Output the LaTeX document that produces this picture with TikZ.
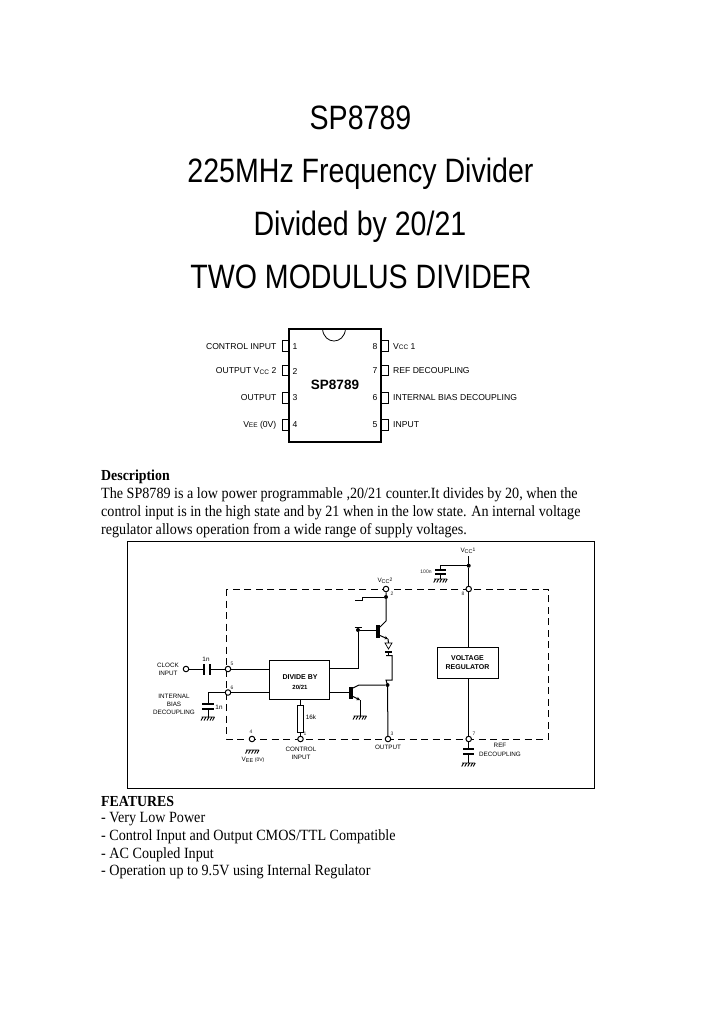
\documentclass[tikz,border=0pt]{standalone}
\usepackage{fontspec}
\setmainfont{Liberation Sans}
\newfontfamily\serifbody[FakeStretch=0.906]{Liberation Serif}
\newfontfamily\titlefont[FakeStretch=0.845]{Liberation Sans}
\usetikzlibrary{arrows.meta}
\newcommand{\fs}[1]{\fontsize{#1}{#1}\selectfont}
\tikzset{
  title/.style={anchor=base,inner sep=0pt,font=\titlefont\fs{33.8}},
  bodyline/.style={anchor=west,inner sep=0pt,font=\serifbody\fs{15.6}},
  headline/.style={anchor=west,inner sep=0pt,font=\serifbody\bfseries\fs{15.3}},
  pinl/.style={anchor=east,inner sep=0pt,font=\fs{8.6}},
  pinr/.style={anchor=west,inner sep=0pt,font=\fs{8.6}},
  pinnum/.style={anchor=center,inner sep=0pt,font=\fs{8.6}},
  tiny/.style={anchor=center,inner sep=0pt,font=\fs{6.3},text=black},
  tinier/.style={anchor=center,inner sep=0pt,font=\fs{5},text=black!85},
  boxlabel/.style={anchor=center,inner sep=0pt,font=\bfseries\fs{7}},
  wire/.style={draw,line width=1pt},
  plate/.style={draw,line width=2pt},
  term/.style={circle,draw,fill=white,line width=1pt,inner sep=0pt,minimum size=5.5pt},
  jn/.style={circle,fill=black,inner sep=0pt,minimum size=4pt},
  block/.style={draw,line width=1.1pt,inner sep=0pt,anchor=north west},
  gnd/.pic={\draw[line width=0.9pt] (-6.5,0) -- (6.5,0)
     (-5,0) -- (-7,3.5) (-2,0) -- (-4,3.5) (1,0) -- (-1,3.5) (4,0) -- (2,3.5) (6.5,0) -- (4.5,3.5);}
}
\begin{document}
\begin{tikzpicture}[x=1pt,y=-1pt]
\useasboundingbox (0,0) rectangle (720,1012);
\fill[white] (0,0) rectangle (720,1012);

% headings
\node[title] (t1) at (360.5,129.3) {SP8789};
\node[title] (t2) at (360.5,182.3) {225MHz Frequency Divider};
\node[title] (t3) at (360,235) {Divided by 20/21};
\node[title] (t4) at (361,288.3) {TWO MODULUS DIVIDER};

% package
\draw[line width=2pt] (288.7,329) rectangle (381.3,442);
\draw[line width=0.8pt] (322.5,329) .. controls (324,345) and (344,345) .. (345.5,329);
\foreach \yy in {346,370.5,398,425}{
  \draw[line width=0.9pt] (288.7,\yy-5.3) -- (282,\yy-5.3) -- (282,\yy+5.3) -- (288.7,\yy+5.3);
  \draw[line width=0.9pt] (381.3,\yy-5.3) -- (388,\yy-5.3) -- (388,\yy+5.3) -- (381.3,\yy+5.3);
}
\node[anchor=center,inner sep=0pt,font=\bfseries\fs{13.5}] (chip) at (335,384.5) {SP8789};
\node[pinl] (l1) at (276.5,346.5) {CONTROL INPUT};
\node[pinl] (l2) at (276.5,371) {OUTPUT V\kern0.3pt\raisebox{-0.5pt}{\fs{6.5}CC} 2};
\node[pinl] (l3) at (276.5,398) {OUTPUT};
\node[pinl] (l4) at (276.5,425) {V\raisebox{-0.5pt}{\fs{6.5}EE} (0V)};
\node[pinnum] (n1) at (295,346.5) {1};
\node[pinnum] (n2) at (295,371) {2};
\node[pinnum] (n3) at (295,398) {3};
\node[pinnum] (n4) at (295,425) {4};
\node[pinnum] (n8) at (375,346.5) {8};
\node[pinnum] (n7) at (375,371) {7};
\node[pinnum] (n6) at (375,398) {6};
\node[pinnum] (n5) at (375,425) {5};
\node[pinr] (r8) at (393,346.5) {V\raisebox{-0.5pt}{\fs{6.5}CC} 1};
\node[pinr] (r7) at (393,370.5) {REF DECOUPLING};
\node[pinr] (r6) at (393,398) {INTERNAL BIAS DECOUPLING};
\node[pinr] (r5) at (393,425) {INPUT};

% description
\node[headline] (dh) at (101,477) {Description};
\node[bodyline] (d1) at (101,495) {The SP8789 is a low power programmable ,20/21 counter.It divides by 20, when the};
\node[bodyline] (d2) at (101,513) {control input is in the high state and by 21 when in the low state. An internal voltage};
\node[bodyline] (d3) at (101,530.5) {regulator allows operation from a wide range of supply voltages.};

% schematic frame
\draw[line width=0.9pt] (127.5,541) rectangle (594.5,788);
\draw[line width=0.9pt,dash pattern=on 7pt off 4.5pt] (226,589) rectangle (548.7,739);

% terminals and junctions
\node[term] (clk) at (186,669) {};
\node[term] (p5) at (228,669) {};
\node[term] (p6) at (228,692.5) {};
\node[term] (p4) at (252,739) {};
\node[term] (p1) at (300.5,739) {};
\node[term] (p3) at (388,739) {};
\node[term] (p2) at (386,589) {};
\node[term] (p8) at (468.7,589) {};
\node[term] (p7) at (468.7,739) {};
\node[jn] (jvcc) at (468.7,565.7) {};
\node[jn] (j2) at (386,597) {};
\node[jn] (jb) at (358,630) {};
\node[jn] (jo) at (387.5,685) {};

% blocks
\node[block,minimum width=60pt,minimum height=39pt] (div) at (269.3,660) {};
\node[boxlabel] (dv1) at (300,677) {DIVIDE BY};
\node[boxlabel,font=\bfseries\fs{6}] (dv2) at (300,687) {20/21};
\node[block,minimum width=61pt,minimum height=31pt] (reg) at (437,647) {};
\node[boxlabel] (rg1) at (467.5,658) {VOLTAGE};
\node[boxlabel] (rg2) at (467.5,667) {REGULATOR};
\node[draw,line width=1pt,inner sep=0pt,minimum width=6.8pt,minimum height=27pt] (res) at (300.5,718.5) {};

% coordinates
\coordinate (c1a) at (204,669); \coordinate (c1b) at (210,669);
\coordinate (c2t) at (208,704); \coordinate (c2b) at (208,709);
\coordinate (c2c) at (208,692.5); \coordinate (g2) at (208,717);
\coordinate (g4) at (252.5,750);
\coordinate (divo1) at (329.3,668); \coordinate (divo2) at (329.3,692.5);
\coordinate (bend1) at (358,668);
\coordinate (baseU) at (377,630); \coordinate (baseL) at (350,692.5);
\coordinate (tick1) at (358,627);
\coordinate (colU) at (380,627); \coordinate (colU2) at (386,621);
\coordinate (emU) at (380,635.5); \coordinate (emU2) at (388,639);
\coordinate (dtop) at (388.5,643); \coordinate (dbar) at (388.5,649);
\coordinate (colL) at (353,688); \coordinate (colL2) at (359,685);
\coordinate (emL) at (353,696.5); \coordinate (emL2) at (360,700); \coordinate (gl) at (360,716);
\coordinate (s1) at (362,597); \coordinate (s2) at (362,600.7);
\coordinate (v1) at (468.7,556);
\coordinate (c3c) at (440.7,565.7); \coordinate (c3t) at (440.7,570); \coordinate (c3b) at (440.7,574); \coordinate (g3) at (440.7,579);
\coordinate (c4t) at (468.7,749); \coordinate (c4b) at (468.7,754); \coordinate (g7) at (468.7,763);
\coordinate (lnk1) at (392,655.7); \coordinate (lnk2) at (392,680);

% input wires
\draw[wire] (clk) -- (c1a) (c1b) -- (p5);
\draw[plate,line width=2.5pt] ([yshift=-5.5pt]c1a) -- ([yshift=5.5pt]c1a) ([yshift=-5.5pt]c1b) -- ([yshift=5.5pt]c1b);
\draw[wire] (p5) -- (p5 -| div.west);
\draw[wire] (p6) -- (p6 -| div.west);
\draw[wire] (p6) -- (c2c) -- (c2t) (c2b) -- (g2);
\draw[plate] ([xshift=-6pt]c2t) -- ([xshift=6pt]c2t) ([xshift=-6pt]c2b) -- ([xshift=6pt]c2b);
\draw[wire] (res.north) -- (res.north |- div.south) (res.south) -- (p1);
\pic at (g2) {gnd};
\pic at (g4) {gnd};

% output stage
\draw[wire] (divo1) -- (bend1) -- (jb) -- (tick1);
\draw[wire] ([xshift=-3.5pt]tick1) -- ([xshift=3.5pt]tick1);
\draw[wire] (jb) -- (baseU);
\draw[line width=3.2pt] (378,625) -- (378,638);
\draw[wire] (colU) -- (colU2) -- (j2) -- (p2);
\draw[wire] (j2) -- (s1) -- (s2);
\draw[wire] ([xshift=-7pt]s2) -- (s2);
\draw[wire,-{Stealth[length=3.5pt,width=3.5pt]}] (emU) -- (emU2);
\draw[wire] (emU2) -- (dtop);
\draw[line width=0.7pt] (385,643) -- (392,643) -- (388.5,649) -- cycle;
\draw[plate] (385,651.5) -- (392,651.5);
\draw[wire] (388.5,651.5) -- (388.5,655.7);
\draw[wire] (386,655.7) -- (lnk1) -- (lnk2) -- (386,680) -- (jo);
\draw[wire] (jo) -- (p3);
\draw[wire] (divo2) -- (baseL);
\draw[line width=3.2pt] (351,687) -- (351,699);
\draw[wire] (colL) -- (colL2) -- (jo);
\draw[wire,-{Stealth[length=3.5pt,width=3.5pt]}] (emL) -- (emL2);
\draw[wire] (emL2) -- (gl);
\pic at (gl) {gnd};

% regulator wires
\draw[wire] (v1) -- (jvcc) -- (p8) -- (reg.north -| p8);
\draw[wire] (reg.south -| p8) -- (p7);
\draw[wire] (jvcc) -- (c3c) -- (c3t) (c3b) -- (g3);
\draw[plate] ([xshift=-5.5pt]c3t) -- ([xshift=5.5pt]c3t) ([xshift=-5.5pt]c3b) -- ([xshift=5.5pt]c3b);
\pic at (g3) {gnd};
\draw[wire] (p7) -- (c4t) (c4b) -- (g7);
\draw[plate] ([xshift=-5.5pt]c4t) -- ([xshift=5.5pt]c4t) ([xshift=-5.5pt]c4b) -- ([xshift=5.5pt]c4b);
\pic at (g7) {gnd};

% schematic labels
\node[tiny] (lc1) at (168,665.5) {CLOCK};
\node[tiny] (lc2) at (168,673.5) {INPUT};
\node[tiny] (li1) at (174,696) {INTERNAL};
\node[tiny] (li2) at (174,704) {BIAS};
\node[tiny] (li3) at (174,712) {DECOUPLING};
\node[tiny] (ln1) at (206,659) {1n};
\node[tiny] (ln2) at (219,707.5) {1n};
\node[tiny] (lk) at (311,717.5) {16k};
\node[tinier] (t5) at (232,664) {5};
\node[tinier] (t6) at (232,688) {6};
\node[tinier] (t4p) at (251,731.5) {4};
\node[tinier] (t1p) at (305,734) {1};
\node[tinier] (t3p) at (392,734) {3};
\node[tinier] (t2p) at (392,594) {2};
\node[tinier] (t8p) at (463,594) {8};
\node[tinier] (t7p) at (474,733.5) {7};
\node[tiny] (lvee) at (253,760) {V\raisebox{-1pt}{\fs{5.5}EE} \fs{5}(0V)};
\node[tiny] (lci1) at (301,749) {CONTROL};
\node[tiny] (lci2) at (301,757) {INPUT};
\node[tiny] (lout) at (388,747) {OUTPUT};
\node[tiny] (lvc2) at (385,581) {V\raisebox{-1pt}{\fs{5.5}CC}\raisebox{1pt}{\fs{5}2}};
\node[tiny] (lvc1) at (468,551) {V\raisebox{-1pt}{\fs{5.5}CC}\raisebox{1pt}{\fs{5}1}};
\node[tinier] (lcap) at (426,572) {100n};
\node[tiny] (lr1) at (500,745) {REF};
\node[tiny] (lr2) at (500,754) {DECOUPLING};

% features
\node[headline] (fh) at (101,801) {FEATURES};
\node[bodyline] (f1) at (101,819) {- Very Low Power};
\node[bodyline] (f2) at (101,836.5) {- Control Input and Output CMOS/TTL Compatible};
\node[bodyline] (f3) at (101,854.5) {- AC Coupled Input};
\node[bodyline] (f4) at (101,871.5) {- Operation up to 9.5V using Internal Regulator};
\end{tikzpicture}
\end{document}
